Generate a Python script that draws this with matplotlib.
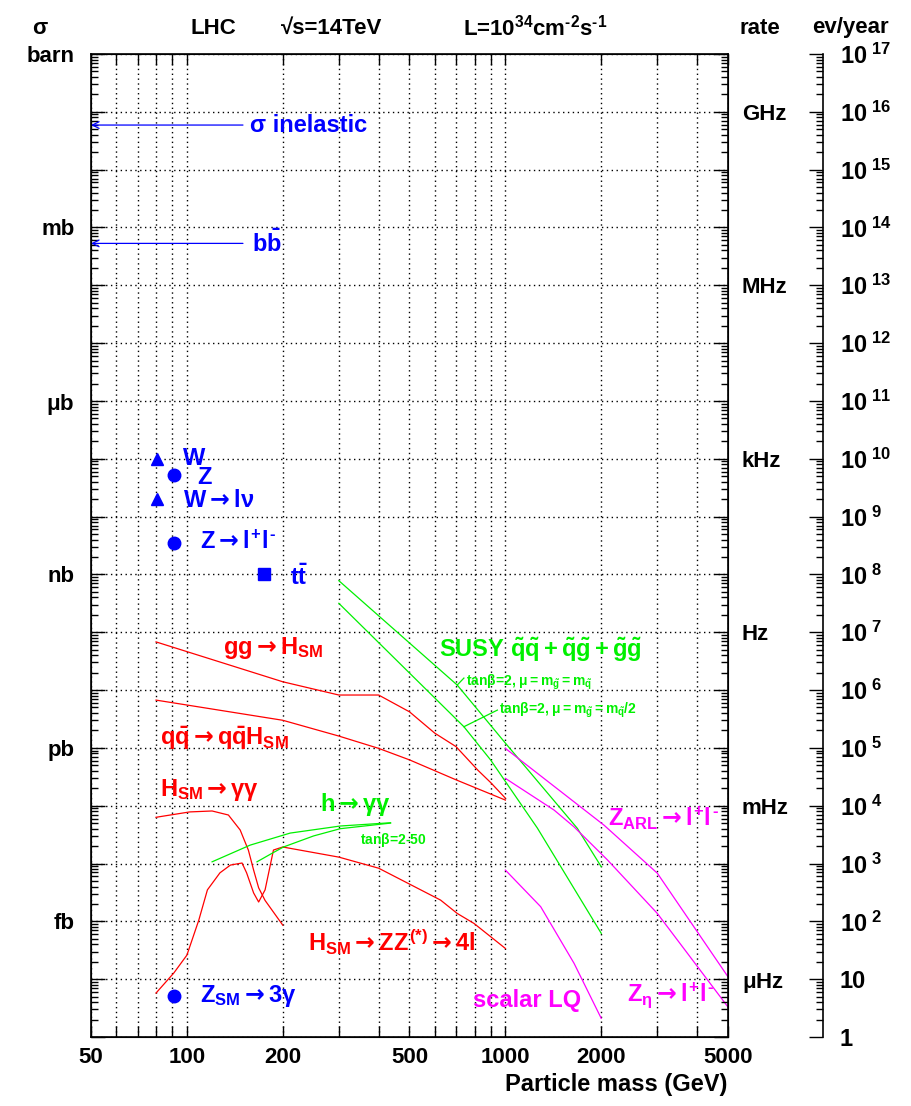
import matplotlib
matplotlib.use("Agg")
import matplotlib.pyplot as plt
from matplotlib.ticker import FixedLocator, FixedFormatter, NullFormatter

plt.rcParams['font.family'] = ['Liberation Sans', 'DejaVu Sans']
plt.rcParams['font.weight'] = 'bold'
plt.rcParams['mathtext.fontset'] = 'custom'
plt.rcParams['mathtext.rm'] = 'Liberation Sans:bold'
plt.rcParams['mathtext.it'] = 'Liberation Sans:bold'
plt.rcParams['mathtext.bf'] = 'Liberation Sans:bold'
plt.rcParams['mathtext.sf'] = 'DejaVu Sans'
plt.rcParams['mathtext.fallback'] = 'stixsans'

# ---- cross sections in pb, masses in GeV ----
sigma_inelastic = 5.9e10
sigma_bb = 5.3e8

w_mass, w_xsec = 80.4, 9.8e4
z_mass, z_xsec = 91.2, 5.2e4
wlnu_xsec = 2.0e4
zll_xsec = 3.5e3
top_mass, tt_xsec = 175.0, 1.0e3
z3g_xsec = 5.1e-5

gg_mass = [80, 200, 300, 400, 500, 600, 700, 820, 900, 1000]
gg_xsec = [68, 13.9, 8.2, 8.2, 4.2, 1.8, 1.05, 0.41, 0.25, 0.135]

qqh_mass = [80, 200, 300, 400, 500, 700, 1000]
qqh_xsec = [6.7, 3.0, 1.6, 0.98, 0.62, 0.28, 0.125]

hgg_mass = [80, 102, 120, 135, 147, 156, 162, 168, 176, 200]
hgg_xsec = [0.063, 0.078, 0.081, 0.069, 0.038, 0.017, 0.0077, 0.0038, 0.0023, 0.00086]

zz4l_mass = [80, 91, 100, 109, 116, 127, 137, 149, 154, 162, 168, 176, 187, 200,
             300, 400, 626, 706, 797, 1000]
zz4l_xsec = [5.75e-5, 1.28e-4, 2.6e-4, 1.05e-3, 3.5e-3, 6.9e-3, 9.4e-3, 1.02e-2,
             6.9e-3, 3.1e-3, 2.16e-3, 3.5e-3, 1.71e-2, 1.93e-2, 1.29e-2, 8.3e-3,
             2.33e-3, 1.37e-3, 9.2e-4, 3.4e-4]

mssm_hgg_mass_a = [120, 158, 211, 303, 436]
mssm_hgg_xsec_a = [0.0107, 0.0208, 0.0336, 0.0445, 0.0507]
mssm_hgg_mass_b = [166, 185, 201, 250, 303, 436]
mssm_hgg_xsec_b = [0.0107, 0.015, 0.0193, 0.030, 0.040, 0.050]

susy_mass_a = [300, 706, 1000, 1683, 2000]
susy_xsec_a = [778, 12.2, 1.21, 0.0405, 0.0088]
susy_mass_b = [300, 741, 899, 1260, 2000]
susy_xsec_b = [316, 2.32, 0.617, 0.0411, 6.2e-4]

zarl_mass = [1000, 2041, 3000, 5000]
zarl_xsec = [0.98, 0.046, 0.0068, 1.1e-4]
zeta_mass = [1000, 1422, 1643, 2093, 3000, 5000]
zeta_xsec = [0.297, 0.084, 0.043, 0.0115, 1.37e-3, 3.3e-5]
lq_mass = [1000, 1291, 1643, 2000]
lq_xsec = [7.7e-3, 1.79e-3, 1.88e-4, 2.1e-5]

x_ticks = [50, 100, 200, 500, 1000, 2000, 5000]
x_minor = [60, 70, 80, 90, 300, 400, 600, 700, 800, 900, 3000, 4000]
sigma_decades = [10.0 ** k for k in range(-5, 13)]
sigma_labels = {12: 'barn', 9: 'mb', 6: r'$\mu b$', 3: 'nb', 0: 'pb', -3: 'fb'}
rate_labels = {11: 'GHz', 8: 'MHz', 5: 'kHz', 2: 'Hz', -1: 'mHz', -4: r'$\mu Hz$'}

RED, GREEN, BLUE, MAG = '#ff0000', '#00f000', '#0000ff', '#ff00ff'
LBL = 17
ARR = r'\mathsf{\rightarrow}'

fig = plt.figure(figsize=(9.11, 11.06), dpi=100)
ax = fig.add_axes([0.0999, 0.0624, 0.6992, 0.8888])
ax.set_xscale('log')
ax.set_yscale('log')
ax.set_xlim(50, 5000)
ax.set_ylim(1e-5, 1e12)

# axis ticks and grid
ax.xaxis.set_major_locator(FixedLocator(x_ticks))
ax.xaxis.set_major_formatter(FixedFormatter([str(v) for v in x_ticks]))
ax.xaxis.set_minor_locator(FixedLocator(x_minor))
ax.xaxis.set_minor_formatter(NullFormatter())
ax.yaxis.set_major_locator(FixedLocator(sigma_decades))
ax.yaxis.set_major_formatter(FixedFormatter(
    [sigma_labels.get(k, '') for k in range(-5, 13)]))
minor_y = [m * 10.0 ** k for k in range(-5, 12) for m in range(2, 10)]
ax.yaxis.set_minor_locator(FixedLocator(minor_y))
ax.yaxis.set_minor_formatter(NullFormatter())
ax.tick_params(axis='x', which='both', direction='in', top=True, bottom=True,
               length=8, width=1, labelsize=16, pad=7)
ax.tick_params(axis='y', which='major', direction='in', left=True, right=False,
               length=10, width=1, labelsize=16, pad=12)
ax.tick_params(axis='y', which='minor', direction='in', left=True, right=False,
               length=5, width=1)
for s in ax.spines.values():
    s.set_linewidth(1.2)
ax.grid(True, axis='x', which='both', color='black', linestyle=(0, (1, 2.5)), linewidth=1)
ax.grid(True, axis='y', which='major', color='black', linestyle=(0, (1, 2.5)), linewidth=1)
ax.set_axisbelow(True)

# rate axis on the right edge of the frame
ax2 = ax.twinx()
ax2.set_yscale('log')
ax2.set_ylim(1e-5, 1e12)
ax2.yaxis.set_major_locator(FixedLocator(sigma_decades))
ax2.yaxis.set_major_formatter(FixedFormatter(
    [rate_labels.get(k, '') for k in range(-5, 13)]))
ax2.yaxis.set_minor_locator(FixedLocator(minor_y))
ax2.yaxis.set_minor_formatter(NullFormatter())
ax2.tick_params(axis='y', which='major', direction='in', length=10, width=1,
                labelsize=16, pad=10)
ax2.tick_params(axis='y', which='minor', direction='in', length=5, width=1)

# events per year axis (L = 1e34 cm^-2 s^-1, 1e7 s -> 1e5 pb^-1)
ax3 = fig.add_axes([823 / 911, 0.0624, 0.0001, 0.8888])
ax3.set_yscale('log')
ax3.set_ylim(1, 1e17)
for name in ('left', 'top', 'bottom'):
    ax3.spines[name].set_visible(False)
ax3.spines['right'].set_linewidth(1.2)
ax3.set_xticks([])
ax3.yaxis.tick_right()
ev_decades = [10.0 ** k for k in range(0, 18)]
ev_labels = ['1', '10'] + [r'$10^{\ %d}$' % k for k in range(2, 18)]
ax3.yaxis.set_major_locator(FixedLocator(ev_decades))
ax3.yaxis.set_major_formatter(FixedFormatter(ev_labels))
ax3.yaxis.set_minor_locator(FixedLocator([m * 10.0 ** k for k in range(0, 17) for m in range(2, 10)]))
ax3.yaxis.set_minor_formatter(NullFormatter())
ax3.tick_params(axis='y', which='major', direction='in', length=10, width=1,
                labelsize=17, pad=12)
ax3.tick_params(axis='y', which='minor', direction='in', length=5, width=1)
ax3.patch.set_visible(False)

# ---- reference arrows ----
for val in (sigma_inelastic, sigma_bb):
    ax.annotate('', xy=(50, val), xytext=(150, val),
                arrowprops=dict(arrowstyle='->', color=BLUE, lw=0.9,
                                shrinkA=0, shrinkB=0, mutation_scale=12))
ax.text(158, sigma_inelastic, 'σ inelastic', color=BLUE, fontsize=LBL, va='center')
ax.text(160, sigma_bb, r'$b\bar{b}$', color=BLUE, fontsize=LBL, va='center')

# ---- measured points ----
ax.plot([w_mass, w_mass], [w_xsec, wlnu_xsec], '^', color=BLUE, ms=9, ls='none')
ax.plot([z_mass, z_mass, z_mass], [z_xsec, zll_xsec, z3g_xsec], 'o', color=BLUE, ms=9, ls='none')
ax.plot([top_mass], [tt_xsec], 's', color=BLUE, ms=9, ls='none')
ax.text(97.4, 1.03e5, 'W', color=BLUE, fontsize=LBL, va='center')
ax.text(107.7, 4.8e4, 'Z', color=BLUE, fontsize=LBL, va='center')
ax.text(97.4, 1.93e4, r'$W%sl\nu$' % ARR, color=BLUE, fontsize=LBL, va='center')
ax.text(110, 3.6e3, r'$Z%sl^{+}l^{\text{-}}$' % ARR, color=BLUE, fontsize=LBL, va='center')
ax.text(211, 9.0e2, r'$t\bar{t}$', color=BLUE, fontsize=LBL, va='center')
ax.text(110, 5.1e-5, r'$Z_{SM}%s3\gamma$' % ARR, color=BLUE, fontsize=LBL, va='center')

# ---- Standard Model Higgs ----
lw = 0.9
ax.plot(gg_mass, gg_xsec, color=RED, lw=lw)
ax.plot(qqh_mass, qqh_xsec, color=RED, lw=lw)
ax.plot(hgg_mass, hgg_xsec, color=RED, lw=lw)
ax.plot(zz4l_mass, zz4l_xsec, color=RED, lw=lw)
ax.text(130, 53, r'$gg%sH_{SM}$' % ARR, color=RED, fontsize=LBL, va='center')
ax.text(82.4, 1.48, r'$q\bar{q}%sq\bar{q}H_{SM}$' % ARR, color=RED, fontsize=LBL, va='center')
ax.text(82.4, 0.186, r'$H_{SM}%s\gamma\gamma$' % ARR, color=RED, fontsize=LBL, va='center')
ax.text(240, 4.4e-4, r'$H_{SM}%sZZ^{(*)}%s4l$' % (ARR, ARR), color=RED,
        fontsize=LBL, va='center')

# ---- MSSM h -> gamma gamma ----
ax.plot(mssm_hgg_mass_a, mssm_hgg_xsec_a, color=GREEN, lw=lw)
ax.plot(mssm_hgg_mass_b, mssm_hgg_xsec_b, color=GREEN, lw=lw)
ax.text(262, 0.103, r'$h%s\gamma\gamma$' % ARR, color=GREEN, fontsize=LBL, va='center')
ax.text(350, 0.0255, r'tan$\beta$=2-50', color=GREEN, fontsize=10, va='center')

# ---- SUSY ----
ax.plot(susy_mass_a, susy_xsec_a, color=GREEN, lw=lw)
ax.plot(susy_mass_b, susy_xsec_b, color=GREEN, lw=lw)
ax.text(617, 49, r'$SUSY\ \tilde{q}\tilde{q}+\tilde{q}\tilde{g}+\tilde{g}\tilde{g}$',
        color=GREEN, fontsize=LBL, va='center')
ax.text(750, 13.8, r'tan$\beta$=2, $\mu=m_{\tilde{g}}=m_{\tilde{q}}$',
        color=GREEN, fontsize=10, va='center')
ax.text(952, 4.5, r'tan$\beta$=2, $\mu=m_{\tilde{g}}=m_{\tilde{q}}/2$',
        color=GREEN, fontsize=10, va='center')
ax.plot([706, 741], [12.2, 16.1], color=GREEN, lw=lw)
ax.plot([741, 944], [2.32, 4.5], color=GREEN, lw=lw)

# ---- exotics ----
ax.plot(zarl_mass, zarl_xsec, color=MAG, lw=lw)
ax.plot(zeta_mass, zeta_xsec, color=MAG, lw=lw)
ax.plot(lq_mass, lq_xsec, color=MAG, lw=lw)
ax.text(2097, 0.0612, r'$Z_{ARL}%sl^{+}l^{\text{-}}$' % ARR, color=MAG,
        fontsize=LBL, va='center')
ax.text(789, 4.35e-5, 'scalar LQ', color=MAG, fontsize=LBL, va='center')
ax.text(2405, 5.3e-5, r'$Z_{\eta}%sl^{+}l^{\text{-}}$' % ARR, color=MAG,
        fontsize=LBL, va='center')

# ---- header and axis title ----
ty = 1 - 28 / 1106
fig.text(40 / 911, ty, 'σ', fontsize=16, ha='center', va='center')
fig.text(213 / 911, ty, 'LHC', fontsize=16, ha='center', va='center')
fig.text(332 / 911, ty, '√s=14TeV', fontsize=16, ha='center', va='center')
fig.text(535 / 911, ty, r'L=10$^{34}$cm$^{\text{-}2}$s$^{\text{-}1}$',
         fontsize=16, ha='center', va='center')
fig.text(760 / 911, ty, 'rate', fontsize=16, ha='center', va='center')
fig.text(850 / 911, ty, 'ev/year', fontsize=16, ha='center', va='center')
fig.text(727 / 911, 1 - 1085 / 1106, 'Particle mass (GeV)', fontsize=17,
         ha='right', va='center')

fig.savefig('out.png', dpi=100)
